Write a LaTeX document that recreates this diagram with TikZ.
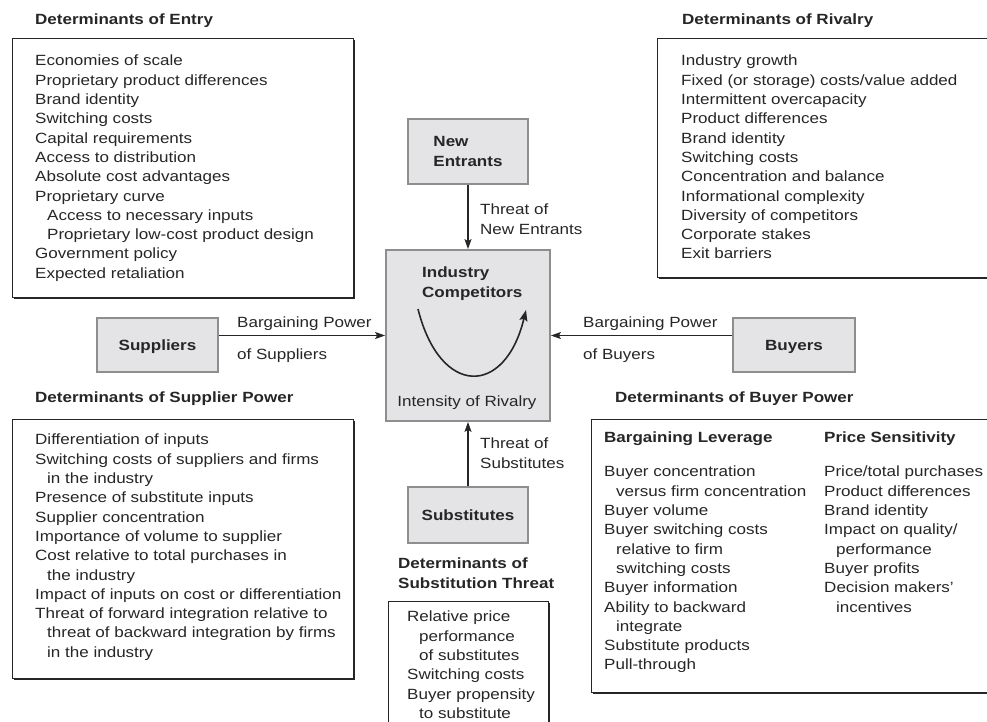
\documentclass[tikz,border=0pt]{standalone}
\usepackage{fontspec}
\setmainfont[FakeStretch=1.15]{Liberation Sans}
\usetikzlibrary{arrows.meta,shadows}

\definecolor{boxgray}{HTML}{E4E4E7}
\definecolor{edgegray}{HTML}{8E8E8E}
\definecolor{inkgray}{HTML}{262626}

\newcommand{\itemind}{\hspace*{12pt}}

\tikzset{
  txt/.style={inner sep=0pt, align=left, text=inkgray, font=\fontsize{14.8}{19.3}\selectfont},
  dethead/.style={txt, font=\fontsize{14.8}{19.3}\selectfont\bfseries},
  detbox/.style={draw=inkgray, line width=1.2pt, fill=white, anchor=north west, inner sep=0pt,
    drop shadow={shadow xshift=1.6pt, shadow yshift=-1.6pt, fill=inkgray, opacity=1}},
  forcebox/.style={draw=edgegray, line width=1.8pt, fill=boxgray, inner sep=0pt, align=left,
    text=inkgray, text depth=0pt, font=\fontsize{14.8}{19.3}\selectfont\bfseries,
    drop shadow={shadow xshift=1.2pt, shadow yshift=-1.2pt, fill=black!55, opacity=1}},
  forcearrow/.style={line width=1.3pt, draw=inkgray, -{Stealth[length=10pt,width=7pt,inset=2pt]}}
}

\begin{document}
\begin{tikzpicture}[x=1pt,y=-1pt]
      \useasboundingbox (0,0) rectangle (987,722);
      \clip (0,0) rectangle (987,722);

      %%Entry
      \node[dethead, anchor=north west] (entryhead) at (35,14) {Determinants of Entry};
      \node[detbox, minimum width=341pt, minimum height=259pt] (entrybox) at (12,38) {};
        \node[txt, anchor=north west] (entrylist) at (35,55) {Economies of scale\\
          Proprietary product differences\\ Brand identity\\ Switching costs\\
          Capital requirements\\ Access to distribution\\ Absolute cost advantages\\
          Proprietary curve\\ \itemind Access to necessary inputs\\
          \itemind Proprietary low-cost product design\\ Government policy\\
          Expected retaliation};

      %%Rivalry
      \node[dethead, anchor=north west] (rivalhead) at (682,14) {Determinants of Rivalry};
      \node[detbox, minimum width=343pt, minimum height=239pt] (rivalbox) at (657,38) {};
        \node[txt, anchor=north west] (rivallist) at (681,55) {Industry growth\\
          Fixed (or storage) costs/value added\\ Intermittent overcapacity\\
          Product differences\\ Brand identity\\ Switching costs\\
          Concentration and balance\\ Informational complexity\\
          Diversity of competitors\\ Corporate stakes\\ Exit barriers};

      %%five forces
      \node[forcebox, minimum width=120pt, minimum height=65pt] (entrants) at (468,151.5) {New\\Entrants};
      \node[forcebox, minimum width=164pt, minimum height=171pt] (rivals) at (468,335.5) {};
        \node[dethead, anchor=north west] (rivalname) at (422,267) {Industry\\Competitors};
        \node[txt, anchor=base] (intensity) at (467,406) {Intensity of Rivalry};
        \draw[line width=1.6pt, draw=inkgray, -{Stealth[length=11pt,width=8pt,inset=2pt]}]
          (418,309) .. controls (440,397) and (505,397) .. (526,310);
      \node[forcebox, minimum width=121pt, minimum height=54pt] (suppliers) at (157.5,345) {Suppliers};
      \node[forcebox, minimum width=122pt, minimum height=54pt] (buyers) at (794,345) {Buyers};
      \node[forcebox, minimum width=120pt, minimum height=56pt] (substitutes) at (468,515) {Substitutes};

        %arrows
        \draw[forcearrow] (entrants) -- (rivals);
        \draw[forcearrow] (substitutes) -- (rivals);
        \draw[forcearrow] (suppliers.east |- rivals.west) -- (rivals.west);
        \draw[forcearrow] (buyers.west |- rivals.east) -- (rivals.east);

        \node[txt, anchor=north west] (entrythreat) at (480,204) {Threat of\\New Entrants};
        \node[txt, anchor=north west] (subthreat) at (480,438) {Threat of\\Substitutes};
        \node[txt, anchor=base west] (suppow) at (237,327) {Bargaining Power};
        \node[txt, anchor=base west] (supof) at (237,359) {of Suppliers};
        \node[txt, anchor=base west] (buypow) at (583,327) {Bargaining Power};
        \node[txt, anchor=base west] (buyof) at (583,359) {of Buyers};

      %%Supplier power
      \node[dethead, anchor=north west] (suphead) at (35,392) {Determinants of Supplier Power};
      \node[detbox, minimum width=341pt, minimum height=259pt] (supbox) at (12,419) {};
        \node[txt, anchor=north west] (suplist) at (35,434) {Differentiation of inputs\\
          Switching costs of suppliers and firms\\ \itemind in the industry\\
          Presence of substitute inputs\\ Supplier concentration\\
          Importance of volume to supplier\\ Cost relative to total purchases in\\
          \itemind the industry\\ Impact of inputs on cost or differentiation\\
          Threat of forward integration relative to\\
          \itemind threat of backward integration by firms\\ \itemind in the industry};

      %%Buyer power
      \node[dethead, anchor=north west] (buyhead) at (615,392) {Determinants of Buyer Power};
      \node[detbox, minimum width=409pt, minimum height=273pt] (buybox) at (591,419) {};
        \node[dethead, anchor=north west] (levhead) at (604,432) {Bargaining Leverage};
        \node[dethead, anchor=north west] (senshead) at (824,432) {Price Sensitivity};
        \node[txt, anchor=north west] (levlist) at (604,466) {Buyer concentration\\
          \itemind versus firm concentration\\ Buyer volume\\ Buyer switching costs\\
          \itemind relative to firm\\ \itemind switching costs\\ Buyer information\\
          Ability to backward\\ \itemind integrate\\ Substitute products\\ Pull-through};
        \node[txt, anchor=north west] (senslist) at (824,466) {Price/total purchases\\
          Product differences\\ Brand identity\\ Impact on quality/\\
          \itemind performance\\ Buyer profits\\ Decision makers'\\ \itemind incentives};

      %%Substitution
      \node[dethead, anchor=north west] (subhead) at (398,558) {Determinants of\\Substitution Threat};
      \node[detbox, minimum width=160pt, minimum height=140pt] (subbox) at (388,601) {};
        \node[txt, anchor=north west] (sublist) at (407,611) {Relative price\\
          \itemind performance\\ \itemind of substitutes\\ Switching costs\\
          Buyer propensity\\ \itemind to substitute};

\end{tikzpicture}
\end{document}
